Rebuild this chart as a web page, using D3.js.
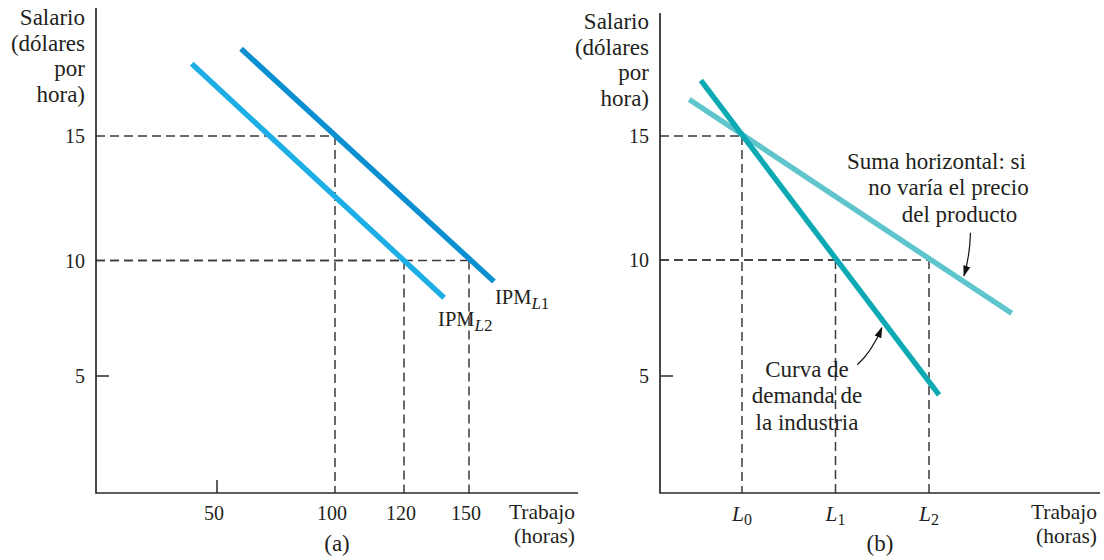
<!DOCTYPE html>
<html><head><meta charset="utf-8">
<script src="https://cdn.jsdelivr.net/npm/d3@7"></script>
<style>
body{margin:0;background:#fff;}
svg text{font-family:"Liberation Serif","Times New Roman",serif;fill:#231f20;}
</style></head><body>
<svg id="chart" width="1104" height="560"></svg>
<script>
// ---------------- data ----------------
const wageTicks = [5, 10, 15];
const laborTicksA = [50, 100, 120, 150];
const laborTicksB = [1, 2, 3];
const laborSubsB = ["0", "1", "2"];
const yTitleLines = ["Salario", "(dólares", "por", "hora)"];
const xTitleLines = ["Trabajo", "(horas)"];
// panel (a) curves: [labor, wage]
const ipmL1 = [[60.2, 18.5], [161.5, 9.09]];
const ipmL2 = [[39.3, 17.9], [138.5, 8.39]];
const guidesA = [[100, 15], [120, 10], [150, 10]];
// panel (b) curves
const demandB = [[0.56, 17.24], [3.107, 4.19]];
const hsumB = [[0.436, 16.47], [3.884, 7.70]];
const guidesB = [[1, 15], [2, 10], [3, 10]];
const hsumNote = ["Suma horizontal: si", "no varía el precio", "del producto"];
const demandNote = ["Curva de", "demanda de", "la industria"];

// ---------------- scales ----------------
const yA = d3.scaleLinear().domain([0, 5, 10, 15]).range([493, 376, 260.5, 136]);
const yB = d3.scaleLinear().domain([0, 5, 10, 15]).range([493, 376, 260, 136]);
const xA = d3.scaleLinear().domain([50, 100, 120, 150]).range([217, 335, 404, 469]);
const xB = d3.scaleLinear().domain([1, 3]).range([742, 929]);

const svg = d3.select("#chart");
const ink = "#2a2a2a";
const TXT = 23, NUM = 20;

svg.append("defs").append("marker")
  .attr("id", "arr").attr("markerUnits", "userSpaceOnUse")
  .attr("viewBox", "0 -5 11 10").attr("refX", 10).attr("refY", 0)
  .attr("markerWidth", 11).attr("markerHeight", 10).attr("orient", "auto")
  .append("path").attr("d", "M0,-3.6L11,0L0,3.6z").attr("fill", "#111");

function panel(cfg) {
  const g = svg.append("g");
  const {x, y, x0, x1, yTop, y0} = cfg;
  // dashed guides
  cfg.guides.forEach(([gx, gy]) => {
    g.append("line").attr("x1", x0).attr("x2", x(gx)).attr("y1", y(gy)).attr("y2", y(gy))
      .attr("stroke", "#3a3a3a").attr("stroke-width", 1.5).attr("stroke-dasharray", "9,5");
    g.append("line").attr("x1", x(gx)).attr("x2", x(gx)).attr("y1", y(gy)).attr("y2", y0)
      .attr("stroke", "#3a3a3a").attr("stroke-width", 1.5).attr("stroke-dasharray", "9,5");
  });
  // axes
  g.append("path").attr("d", `M${x0},${yTop}V${y0}H${x1}`)
    .attr("fill", "none").attr("stroke", ink).attr("stroke-width", 1.7);
  // y tick mark at 5
  g.append("line").attr("x1", x0).attr("x2", x0 + 13).attr("y1", y(5)).attr("y2", y(5))
    .attr("stroke", ink).attr("stroke-width", 1.5);
  // y tick labels
  g.selectAll(".yt").data(wageTicks).enter().append("text")
    .attr("x", x0 - 11).attr("y", d => y(d) + 7).attr("text-anchor", "end")
    .attr("font-size", NUM).text(d => d);
  // y title
  g.selectAll(".ytt").data(yTitleLines).enter().append("text")
    .attr("x", x0 - 11).attr("y", (d, i) => cfg.titleY + i * 25.6).attr("text-anchor", "end")
    .attr("font-size", TXT).text(d => d);
  // x title
  g.selectAll(".xtt").data(xTitleLines).enter().append("text")
    .attr("x", x1 - 3).attr("y", (d, i) => 518.5 + i * 24).attr("text-anchor", "end")
    .attr("font-size", 21.5).text(d => d);
  // panel letter
  g.append("text").attr("x", cfg.letterX).attr("y", 551).attr("text-anchor", "middle")
    .attr("font-size", TXT).text(cfg.letter);
  // curves
  cfg.curves.forEach(c => {
    g.append("path").datum(c.data)
      .attr("d", d3.line().x(d => x(d[0])).y(d => y(d[1])))
      .attr("fill", "none").attr("stroke", c.color).attr("stroke-width", 5.4);
  });
  return g;
}

// ---- panel (a)
const ga = panel({x: xA, y: yA, x0: 96, x1: 578, yTop: 8, y0: 493, titleY: 25,
  guides: guidesA, letter: "(a)", letterX: 337,
  curves: [{data: ipmL2, color: "#1eaee6"}, {data: ipmL1, color: "#0a8fd0"}]});
ga.append("line").attr("x1", xA(50)).attr("x2", xA(50)).attr("y1", 493).attr("y2", 480)
  .attr("stroke", ink).attr("stroke-width", 1.5);
ga.selectAll(".xt").data(laborTicksA).enter().append("text")
  .attr("x", d => xA(d) - 3).attr("y", 520).attr("text-anchor", "middle")
  .attr("font-size", NUM).text(d => d);
function ipmLabel(px, py, sub) {
  const t = ga.append("text").attr("x", px).attr("y", py).attr("font-size", 20.5);
  t.append("tspan").text("IPM");
  t.append("tspan").attr("dy", 5).attr("font-size", 17).attr("font-style", "italic").text("L");
  t.append("tspan").attr("font-size", 17).text(sub);
}
ipmLabel(xA(ipmL1[1][0]) + 1, yA(ipmL1[1][1]) + 22, "1");
ipmLabel(xA(ipmL2[1][0]) - 6, yA(ipmL2[1][1]) + 28, "2");

// ---- panel (b)
const gb = panel({x: xB, y: yB, x0: 660, x1: 1100, yTop: 13, y0: 493, titleY: 29,
  guides: guidesB, letter: "(b)", letterX: 880,
  curves: [{data: hsumB, color: "#5ec5cc"}, {data: demandB, color: "#0eaab4"}]});
laborTicksB.forEach((d, i) => {
  const t = gb.append("text").attr("x", xB(d)).attr("y", 521).attr("text-anchor", "middle")
    .attr("font-size", 21.5);
  t.append("tspan").attr("font-style", "italic").text("L");
  t.append("tspan").attr("dy", 4).attr("font-size", 16).text(laborSubsB[i]);
});
// annotations
const hsA = [xB(hsumB[0][0]), yB(hsumB[0][1])], hsZ = [xB(hsumB[1][0]), yB(hsumB[1][1])];
const dmA = [xB(demandB[0][0]), yB(demandB[0][1])], dmZ = [xB(demandB[1][0]), yB(demandB[1][1])];
const hsPt = d3.interpolate(hsA, hsZ)(0.852);
const dmPt = d3.interpolate(dmA, dmZ)(0.783);
const hsCenters = [936.5, 948.5, 959.5];
gb.selectAll(".hn").data(hsumNote).enter().append("text")
  .attr("x", (d, i) => hsCenters[i]).attr("y", (d, i) => 168.5 + i * 26.5)
  .attr("text-anchor", "middle").attr("font-size", TXT).text(d => d);
gb.selectAll(".dn").data(demandNote).enter().append("text")
  .attr("x", 807).attr("y", (d, i) => 377 + i * 26.3)
  .attr("text-anchor", "middle").attr("font-size", TXT).text(d => d);
const tip1 = [hsPt[0], hsPt[1] - 6];
gb.append("path").attr("d", `M${tip1[0] + 6.5},${tip1[1] - 43} Q${tip1[0] + 6},${tip1[1] - 20} ${tip1[0]},${tip1[1]}`)
  .attr("fill", "none").attr("stroke", "#111").attr("stroke-width", 1.2).attr("marker-end", "url(#arr)");
const tip2 = [dmPt[0] - 5.5, dmPt[1] + 1];
gb.append("path").attr("d", `M${tip2[0] - 24.5},${tip2[1] + 37} Q${tip2[0] - 10},${tip2[1] + 24} ${tip2[0]},${tip2[1]}`)
  .attr("fill", "none").attr("stroke", "#111").attr("stroke-width", 1.2).attr("marker-end", "url(#arr)");
</script>
</body></html>
